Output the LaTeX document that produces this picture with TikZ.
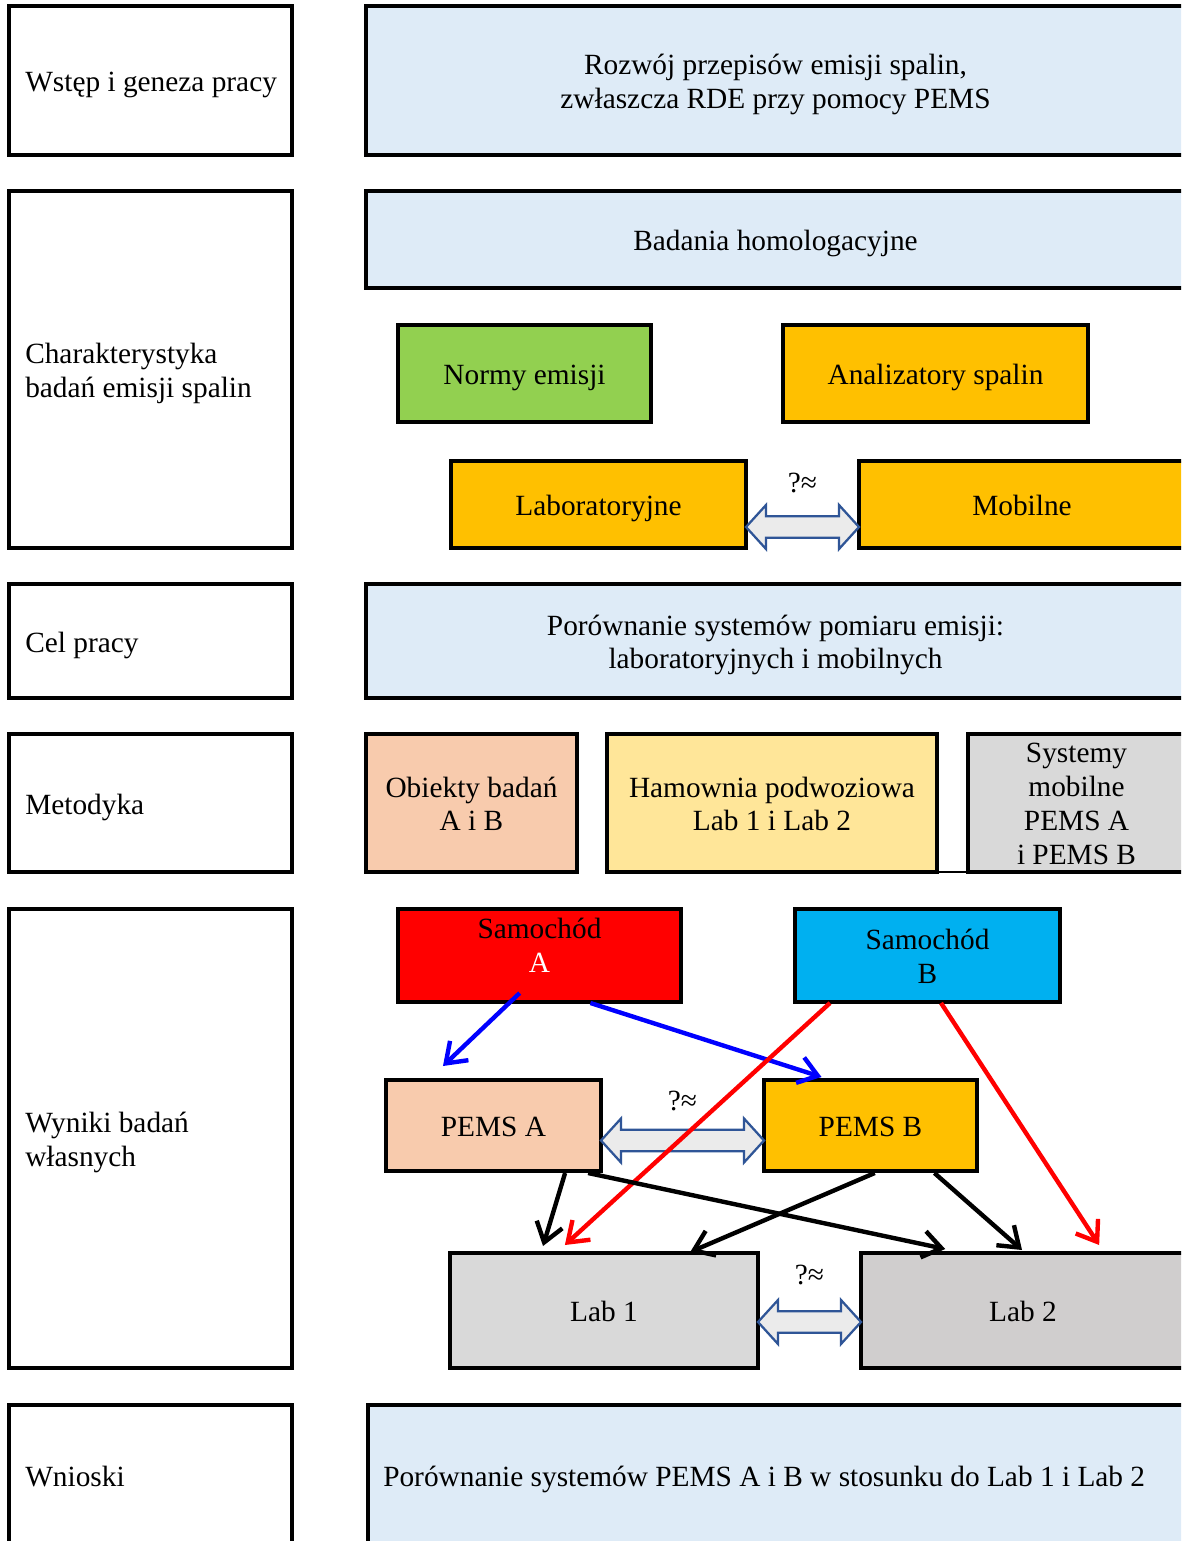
\documentclass[tikz,border=0pt]{standalone}
\usepackage{fontspec}
\setmainfont{Liberation Serif}
\usetikzlibrary{arrows.meta,calc}
\definecolor{lblue}{HTML}{DEEBF7}
\definecolor{cgreen}{HTML}{92D050}
\definecolor{corange}{HTML}{FFC000}
\definecolor{cpeach}{HTML}{F8CBAD}
\definecolor{cyellow}{HTML}{FFE699}
\definecolor{cgrey}{HTML}{D9D9D9}
\definecolor{cgreyb}{HTML}{D0CECE}
\definecolor{ccyan}{HTML}{00B0F0}
\definecolor{arrblue}{HTML}{2F5597}
\definecolor{arrfill}{HTML}{EBEBEB}
\definecolor{cblue}{HTML}{0000FF}
\newcommand\bx[7]{\node[box, #6, anchor=north west, minimum width={(#4-#2)*0.75pt}, minimum height={(#5-#3)*0.75pt}] (#1) at (#2,#3) {};
  \node[txt] (#1-t) at ($(#1.center)+(0,4)$) {#7};}
\newcommand\dblarr[5]{%
  \draw[dbl] let \p1=($(#1.east)+(0,#3)$), \p2=(#2.west) in
    (\x1,\y1) -- (\x1+15pt,\y1+16.5pt) -- (\x1+15pt,\y1+8pt) -- (\x2-15pt,\y1+8pt) -- (\x2-15pt,\y1+16.5pt)
    -- (\x2,\y1) -- (\x2-15pt,\y1-16.5pt) -- (\x2-15pt,\y1-8pt) -- (\x1+15pt,\y1-8pt) -- (\x1+15pt,\y1-16.5pt) -- cycle
    node[qlab] (#1-#2-lab) at ({(\x1+\x2)/2},\y1+#4) {#5};}
\begin{document}
\begin{tikzpicture}[x=0.75pt,y=-0.75pt,
  font=\fontsize{22pt}{25.3pt}\selectfont,
  box/.style={draw=black, line width=2.3pt, outer sep=0pt, inner sep=0pt},
  lbl/.style={align=left, inner sep=0pt, anchor=west, execute at end node=\vphantom{y}},
  txt/.style={align=center, inner sep=0pt, execute at end node=\vphantom{y}},
  qlab/.style={align=center, inner sep=0pt},
  dbl/.style={draw=arrblue, fill=arrfill, line width=1.7pt, line join=miter},
  conn/.style={line width=3.3pt, -{Straight Barb[length=14pt,width=20pt]}}]
\useasboundingbox (0,0) rectangle (1181,1541);
\fill[white] (0,0) rectangle (1181,1541);
\clip (0,0) rectangle (1181,1541);
% left column
\bx{L1}{9}{6}{292}{155}{fill=white}{}
\bx{L2}{9}{191}{292}{548}{fill=white}{}
\bx{L3}{9}{584}{292}{698}{fill=white}{}
\bx{L4}{9}{734}{292}{872}{fill=white}{}
\bx{L5}{9}{909}{292}{1368}{fill=white}{}
\bx{L6}{9}{1405}{292}{1545}{fill=white}{}
\node[lbl] (t1) at ($(L1.west)+(16,4)$) {Wstęp i geneza pracy};
\node[lbl] (t2) at ($(L2.west)+(16,4)$) {Charakterystyka\\badań emisji spalin};
\node[lbl] (t3) at ($(L3.west)+(16,4)$) {Cel pracy};
\node[lbl] (t4) at ($(L4.west)+(16,4)$) {Metodyka};
\node[lbl] (t5) at ($(L5.west)+(16,4)$) {Wyniki badań\\własnych};
\node[lbl] (t6) at ($(L6.west)+(16,4)$) {Wnioski};
% right column
\bx{R1}{366}{6}{1185}{155}{fill=lblue}{Rozwój przepisów emisji spalin,\\zwłaszcza RDE przy pomocy PEMS}
\bx{R2}{366}{191}{1185}{288}{fill=lblue}{Badania homologacyjne}
\bx{norm}{398}{325}{651}{422}{fill=cgreen}{Normy emisji}
\bx{anal}{783}{325}{1088}{422}{fill=corange}{Analizatory spalin}
\bx{lab}{451}{461}{746}{548}{fill=corange}{Laboratoryjne}
\bx{mob}{859}{461}{1185}{548}{fill=corange}{Mobilne}
\bx{R3}{366}{584}{1185}{698}{fill=lblue}{Porównanie systemów pomiaru emisji:\\laboratoryjnych i mobilnych}
\bx{ob}{366}{734}{577}{872}{fill=cpeach}{Obiekty badań\\A i B}
\bx{hp}{607}{734}{937}{872}{fill=cyellow}{Hamownia podwoziowa\\Lab 1 i Lab 2}
\bx{sm}{968}{734}{1185}{872}{fill=cgrey}{Systemy\\mobilne\\PEMS A\\i PEMS B}
\draw[line width=0.8pt] (hp.south east) -- (sm.south west);
\bx{sa}{398}{909}{681}{1002}{fill=red}{}
\node[txt] (satxt) at ($(sa.center)+(0,-7)$) {Samochód\\\textcolor{white}{A}};
\bx{sb}{795}{909}{1060}{1002}{fill=ccyan}{Samochód\\B}
\bx{pa}{386}{1080}{601}{1171}{fill=cpeach}{PEMS A}
\bx{pb}{764}{1080}{977}{1171}{fill=corange}{PEMS B}
\bx{l1}{450}{1253}{758}{1368}{fill=cgrey}{Lab 1}
\bx{l2}{861}{1253}{1185}{1368}{fill=cgreyb}{Lab 2}
\bx{R6}{368}{1405}{1185}{1545}{fill=lblue}{}
\node[lbl] (t7) at ($(R6.west)+(15,4)$) {Porównanie systemów PEMS A i B w stosunku do Lab 1 i Lab 2};
% double arrows
\dblarr{lab}{mob}{22.5}{33pt}{?≈}
\dblarr{pa}{pb}{15}{30pt}{?≈}
\dblarr{l1}{l2}{11.5}{35pt}{?≈}
% connectors
\draw[conn, cblue] ($(sa.south west)!0.43!(sa.south east)+(0,-9)$) -- ($(pa.north west)!0.265!(pa.north east)+(0,-14)$);
\draw[conn, cblue] ($(sa.south west)!0.68!(sa.south east)+(0,1)$) -- ($(pb.north west)!0.27!(pb.north east)+(0,-3)$);
\draw[conn, red] ($(sb.south west)!0.132!(sb.south east)+(0,1)$) -- ($(l1.north west)!0.373!(l1.north east)+(0,-8)$);
\draw[conn, red] ($(sb.south west)!0.551!(sb.south east)+(0,1)$) -- ($(l2.north west)!0.735!(l2.north east)+(0,-8)$);
\draw[conn] ($(pa.south west)!0.833!(pa.south east)+(0,2)$) -- ($(l1.north west)!0.302!(l1.north east)+(0,-7)$);
\draw[conn] ($(pa.south west)!0.94!(pa.south east)+(0,2)$) -- ($(l2.north west)!0.26!(l2.north east)+(0,-4)$);
\draw[conn] ($(pb.south west)!0.52!(pb.south east)+(0,2)$) -- ($(l1.north west)!0.78!(l1.north east)+(0,-1)$);
\draw[conn] ($(pb.south west)!0.80!(pb.south east)+(0,2)$) -- ($(l2.north west)!0.497!(l2.north east)+(0,-3)$);
\end{tikzpicture}
\end{document}
